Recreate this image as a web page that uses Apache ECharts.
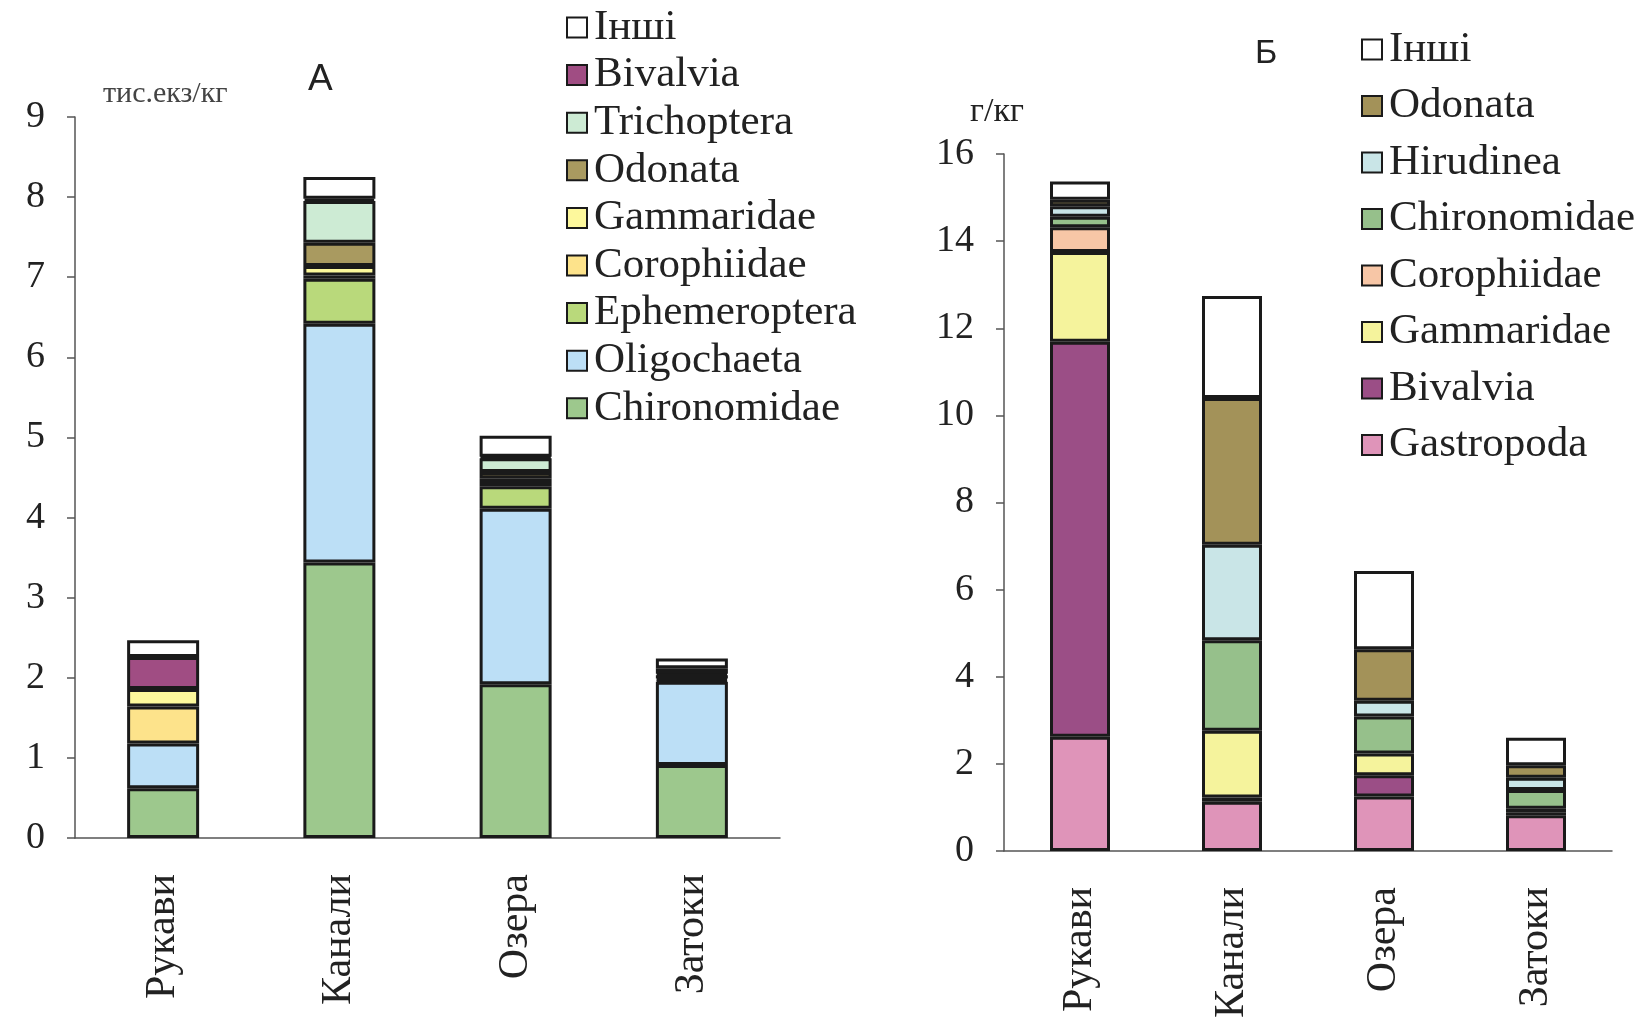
<!DOCTYPE html>
<html>
<head>
<meta charset="utf-8">
<script src="https://cdn.jsdelivr.net/npm/echarts@6/dist/echarts.min.js"></script>
<style>
  html, body { margin: 0; padding: 0; background: #fff; }
  #chart { width: 1636px; height: 1028px; }
</style>
</head>
<body>
<div id="chart"></div>
<script>
// categories (shared by both panels)
const sites = ['Рукави', 'Канали', 'Озера', 'Затоки'];

// panel A, тис.екз/кг, stacked bottom -> top
const namesA = ['Chironomidae', 'Oligochaeta', 'Ephemeroptera', 'Corophiidae', 'Gammaridae', 'Odonata', 'Trichoptera', 'Bivalvia', 'Інші'];
const colorsA = ['#9dc88d', '#bcdff6', '#b9d97b', '#fde38b', '#fdf89c', '#a99a60', '#cdebd4', '#a04d83', '#ffffff'];
const chironomidaeA = [0.62, 3.44, 1.92, 0.91];
const oligochaetaA = [0.56, 2.98, 2.19, 1.04];
const ephemeropteraA = [0, 0.56, 0.28, 0.02];
const corophiidaeA = [0.46, 0.04, 0.04, 0];
const gammaridaeA = [0.22, 0.12, 0.06, 0.02];
const odonataA = [0, 0.29, 0.08, 0.04];
const trichopteraA = [0, 0.52, 0.17, 0.02];
const bivalviaA = [0.40, 0.03, 0.02, 0.07];
const otherA = [0.21, 0.27, 0.26, 0.12];
const valuesA = [chironomidaeA, oligochaetaA, ephemeropteraA, corophiidaeA, gammaridaeA, odonataA, trichopteraA, bivalviaA, otherA];

// panel Б, г/кг, stacked bottom -> top
const namesB = ['Gastropoda', 'Bivalvia', 'Gammaridae', 'Corophiidae', 'Chironomidae', 'Hirudinea', 'Odonata', 'Інші'];
const colorsB = ['#df94b9', '#9b4e86', '#f5f39c', '#f7c6a6', '#96c08b', '#c9e5e7', '#a39259', '#ffffff'];
const gastropodaB = [2.62, 1.13, 1.25, 0.82];
const bivalviaB = [9.07, 0.10, 0.49, 0.07];
const gammaridaeB = [2.06, 1.53, 0.50, 0.08];
const corophiidaeB = [0.57, 0, 0, 0];
const chironomidaeB = [0.24, 2.08, 0.85, 0.43];
const hirudineaB = [0.24, 2.19, 0.36, 0.28];
const odonataB = [0.15, 3.37, 1.18, 0.29];
const otherB = [0.42, 2.34, 1.80, 0.63];
const valuesB = [gastropodaB, bivalviaB, gammaridaeB, corophiidaeB, chironomidaeB, hirudineaB, odonataB, otherB];

const ticksA = { min: 0, max: 9, interval: 1 };
const ticksB = { min: 0, max: 16, interval: 2 };

const SUFFIX_B = ' (Б)';
const serif = '"Liberation Serif", "Times New Roman", serif';
const sans = '"Liberation Sans", Arial, sans-serif';
const ink = '#222';

const chart = echarts.init(document.getElementById('chart'));

function xAxis(gridIndex) {
  return {
    type: 'category',
    gridIndex,
    data: sites,
    axisLine: { lineStyle: { color: '#555', width: 1.5 } },
    axisTick: { length: 10, lineStyle: { color: '#555', width: 1.5 } },
    axisLabel: { rotate: 90, margin: 36, fontFamily: serif, fontSize: 42, color: ink },
  };
}

function yAxis(gridIndex, t) {
  return {
    type: 'value',
    gridIndex,
    min: t.min,
    max: t.max,
    interval: t.interval,
    splitLine: { show: false },
    axisLine: { show: true, lineStyle: { color: '#555', width: 1.5 } },
    axisTick: { show: true, length: 8, lineStyle: { color: '#555', width: 1.5 } },
    axisLabel: { margin: 30, fontFamily: serif, fontSize: 38, color: ink },
  };
}

// zero entries become gaps so they add no extra outline
function clean(arr) {
  return arr.map(v => (v === 0 ? '-' : v));
}

function makeSeries(names, colors, values, idx, stack, width, suffix) {
  return names.map((n, i) => ({
    name: n + suffix,
    type: 'bar',
    stack,
    xAxisIndex: idx,
    yAxisIndex: idx,
    barWidth: width,
    data: clean(values[i]),
    itemStyle: { color: colors[i], borderColor: '#1a1a1a', borderWidth: 3 },
    emphasis: { disabled: true },
  }));
}

function legend(names, suffix, left, top, gap) {
  return {
    orient: 'vertical',
    left,
    top,
    data: names.slice().reverse().map(n => n + suffix),
    icon: 'rect',
    itemWidth: 20,
    itemHeight: 20,
    itemGap: gap,
    itemStyle: { borderColor: '#1a1a1a', borderWidth: 2 },
    formatter: n => n.replace(SUFFIX_B, ''),
    textStyle: { fontFamily: serif, fontSize: 43, color: ink, lineHeight: 40, padding: [0, 0, 0, 2] },
    selectedMode: false,
  };
}

const option = {
  backgroundColor: '#ffffff',
  animation: false,
  title: [
    { text: 'А', left: 303, top: 56, textStyle: { fontFamily: sans, fontSize: 37, fontWeight: 'normal', color: ink } },
    { text: 'тис.екз/кг', left: 98, top: 74, textStyle: { fontFamily: serif, fontSize: 30, fontWeight: 'normal', color: '#444' } },
    { text: 'Б', left: 1250, top: 32, textStyle: { fontFamily: sans, fontSize: 34, fontWeight: 'normal', color: ink } },
    { text: 'г/кг', left: 965, top: 90, textStyle: { fontFamily: serif, fontSize: 34, fontWeight: 'normal', color: ink } },
  ],
  legend: [
    legend(namesA, '', 561, 1, 4.6),
    legend(namesB, SUFFIX_B, 1356, 23, 13.5),
  ],
  grid: [
    { left: 75, right: 856, top: 117, bottom: 190 },
    { left: 1004, right: 24, top: 154, bottom: 177 },
  ],
  xAxis: [xAxis(0), xAxis(1)],
  yAxis: [yAxis(0, ticksA), yAxis(1, ticksB)],
  series: [
    ...makeSeries(namesA, colorsA, valuesA, 0, 'a', 72, ''),
    ...makeSeries(namesB, colorsB, valuesB, 1, 'b', 60, SUFFIX_B),
  ],
};

chart.setOption(option);
</script>
</body>
</html>
